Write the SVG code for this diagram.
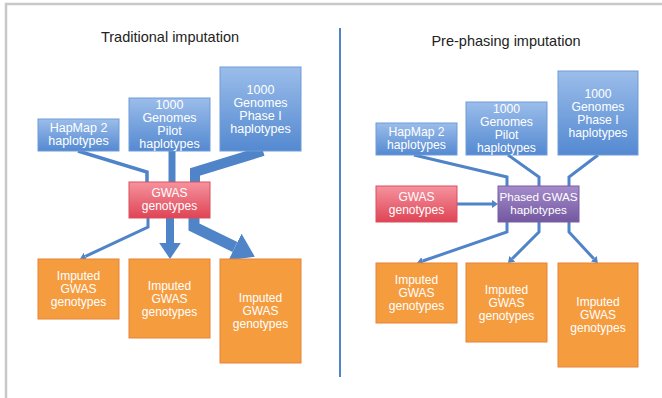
<svg xmlns="http://www.w3.org/2000/svg" width="662" height="398" viewBox="0 0 662 398">
  <style>
    text { font-family: "Liberation Sans", Arial, sans-serif; text-anchor: middle; }
    .title { font-size: 14.5px; fill: #222222; }
    .lbl { fill: #ffffff; }
    .blue { fill: url(#gBlue); stroke: #6f9bd8; stroke-width: 1; }
    .red { fill: url(#gRed); stroke: #d9505f; stroke-width: 1; }
    .purple { fill: url(#gPurple); stroke: #7a5ea3; stroke-width: 1; }
    .orange { fill: #f59c3f; stroke: #e5843a; stroke-width: 1; }
    .conn { fill: none; stroke: #4f84c9; stroke-linejoin: miter; }
    .arrow { marker-end: url(#head); }
    .frame { stroke: #c8c8c8; stroke-width: 2.5; fill: none; }
  </style>
  <defs>
    <linearGradient id="gBlue" x1="0" y1="0" x2="0" y2="1">
      <stop offset="0" stop-color="#9bbdea"/>
      <stop offset="1" stop-color="#5489d1"/>
    </linearGradient>
    <linearGradient id="gRed" x1="0" y1="0" x2="0" y2="1">
      <stop offset="0" stop-color="#f5939e"/>
      <stop offset="1" stop-color="#df4455"/>
    </linearGradient>
    <linearGradient id="gPurple" x1="0" y1="0" x2="0" y2="1">
      <stop offset="0" stop-color="#a48ccb"/>
      <stop offset="1" stop-color="#7357a0"/>
    </linearGradient>
    <marker id="head" viewBox="0 0 20 27" refX="0" refY="13.5" markerWidth="2" markerHeight="2.7" markerUnits="strokeWidth" orient="auto">
      <path d="M0,0 L20,13.5 L0,27 z" fill="#4f84c9"/>
    </marker>
  </defs>

  <rect width="662" height="398" fill="#ffffff"/>
  <!-- page frame -->
  <path class="frame" d="M6,398 V4 H662"/>
  <!-- divider between the two schemes -->
  <line x1="340" y1="28" x2="340" y2="377" stroke="#4f84c9" stroke-width="2"/>

  <text class="title" x="170" y="42">Traditional imputation</text>
  <text class="title" x="506" y="46">Pre-phasing imputation</text>

  <!-- connectors -->
  <g id="connectors">
    <!-- traditional: references into GWAS genotypes -->
    <path class="conn" stroke-width="3.5" d="M78,151 L147,172 V182"/>
    <path class="conn" stroke-width="7" d="M172,151 V182"/>
    <path class="conn" stroke-width="10" d="M263,151 L195,172 V182"/>
    <!-- traditional: GWAS genotypes to imputed outputs -->
    <path class="conn arrow" stroke-width="3" d="M148,218 V227 L85.4,256.4"/>
    <path class="conn arrow" stroke-width="8" d="M170,218 V243"/>
    <path class="conn arrow" stroke-width="11" d="M194,218 V227 L235,247"/>
    <!-- pre-phasing: references into phased haplotypes -->
    <path class="conn" stroke-width="3" d="M414,155 L507,177 V186"/>
    <path class="conn" stroke-width="3" d="M508,155 L539,177 V186"/>
    <path class="conn" stroke-width="3" d="M598,155 L569,177 V186"/>
    <path class="conn arrow" stroke-width="3" d="M457,204 H492"/>
    <!-- pre-phasing: phased haplotypes to imputed outputs -->
    <path class="conn arrow" stroke-width="3" d="M507,222 V232 L422.7,261"/>
    <path class="conn arrow" stroke-width="3" d="M539,222 V232 L512.2,258.8"/>
    <path class="conn arrow" stroke-width="3" d="M569,222 V232 L593.8,258.8"/>
  </g>

  <!-- traditional imputation nodes -->
  <g id="t-hapmap">
    <rect class="blue" x="38" y="119" width="81" height="32"/>
    <text class="lbl" font-size="12.5" x="78.5" y="132">HapMap 2</text>
    <text class="lbl" font-size="12.5" x="78.5" y="145">haplotypes</text>
  </g>
  <g id="t-pilot">
    <rect class="blue" x="129" y="98" width="81" height="53"/>
    <text class="lbl" font-size="12.5" x="169.5" y="109">1000</text>
    <text class="lbl" font-size="12.5" x="169.5" y="122">Genomes</text>
    <text class="lbl" font-size="12.5" x="169.5" y="135">Pilot</text>
    <text class="lbl" font-size="12.5" x="169.5" y="148">haplotypes</text>
  </g>
  <g id="t-phase1">
    <rect class="blue" x="220" y="67" width="81" height="84"/>
    <text class="lbl" font-size="12.5" x="260.5" y="94">1000</text>
    <text class="lbl" font-size="12.5" x="260.5" y="107">Genomes</text>
    <text class="lbl" font-size="12.5" x="260.5" y="120">Phase I</text>
    <text class="lbl" font-size="12.5" x="260.5" y="133">haplotypes</text>
  </g>
  <g id="t-gwas">
    <rect class="red" x="129" y="182" width="81" height="36"/>
    <text class="lbl" font-size="12" x="169.5" y="197">GWAS</text>
    <text class="lbl" font-size="12" x="169.5" y="210">genotypes</text>
  </g>
  <g id="t-imp1">
    <rect class="orange" x="38" y="259" width="81" height="60"/>
    <text class="lbl" font-size="12" x="78.5" y="280">Imputed</text>
    <text class="lbl" font-size="12" x="78.5" y="293">GWAS</text>
    <text class="lbl" font-size="12" x="78.5" y="306">genotypes</text>
  </g>
  <g id="t-imp2">
    <rect class="orange" x="129" y="259" width="81" height="79"/>
    <text class="lbl" font-size="12" x="169.5" y="290">Imputed</text>
    <text class="lbl" font-size="12" x="169.5" y="303">GWAS</text>
    <text class="lbl" font-size="12" x="169.5" y="316">genotypes</text>
  </g>
  <g id="t-imp3">
    <rect class="orange" x="220" y="259" width="81" height="104"/>
    <text class="lbl" font-size="12" x="260.5" y="302">Imputed</text>
    <text class="lbl" font-size="12" x="260.5" y="315">GWAS</text>
    <text class="lbl" font-size="12" x="260.5" y="328">genotypes</text>
  </g>

  <!-- pre-phasing imputation nodes -->
  <g id="p-hapmap">
    <rect class="blue" x="376" y="123" width="81" height="32"/>
    <text class="lbl" font-size="12.2" x="416.5" y="136">HapMap 2</text>
    <text class="lbl" font-size="12.2" x="416.5" y="149">haplotypes</text>
  </g>
  <g id="p-pilot">
    <rect class="blue" x="466" y="102" width="81" height="53"/>
    <text class="lbl" font-size="12.2" x="506.5" y="113">1000</text>
    <text class="lbl" font-size="12.2" x="506.5" y="126">Genomes</text>
    <text class="lbl" font-size="12.2" x="506.5" y="139">Pilot</text>
    <text class="lbl" font-size="12.2" x="506.5" y="152">haplotypes</text>
  </g>
  <g id="p-phase1">
    <rect class="blue" x="558" y="71" width="80" height="84"/>
    <text class="lbl" font-size="12.2" x="598" y="98">1000</text>
    <text class="lbl" font-size="12.2" x="598" y="111">Genomes</text>
    <text class="lbl" font-size="12.2" x="598" y="124">Phase I</text>
    <text class="lbl" font-size="12.2" x="598" y="137">haplotypes</text>
  </g>
  <g id="p-gwas">
    <rect class="red" x="376" y="186" width="81" height="36"/>
    <text class="lbl" font-size="12" x="416.5" y="201">GWAS</text>
    <text class="lbl" font-size="12" x="416.5" y="214">genotypes</text>
  </g>
  <g id="p-phased">
    <rect class="purple" x="498" y="186" width="81" height="36"/>
    <text class="lbl" font-size="11.7" x="538.5" y="201">Phased GWAS</text>
    <text class="lbl" font-size="11.7" x="538.5" y="214">haplotypes</text>
  </g>
  <g id="p-imp1">
    <rect class="orange" x="376" y="263" width="81" height="60"/>
    <text class="lbl" font-size="12" x="416.5" y="284">Imputed</text>
    <text class="lbl" font-size="12" x="416.5" y="297">GWAS</text>
    <text class="lbl" font-size="12" x="416.5" y="310">genotypes</text>
  </g>
  <g id="p-imp2">
    <rect class="orange" x="466" y="263" width="81" height="79"/>
    <text class="lbl" font-size="12" x="506.5" y="294">Imputed</text>
    <text class="lbl" font-size="12" x="506.5" y="307">GWAS</text>
    <text class="lbl" font-size="12" x="506.5" y="320">genotypes</text>
  </g>
  <g id="p-imp3">
    <rect class="orange" x="558" y="263" width="80" height="104"/>
    <text class="lbl" font-size="12" x="598" y="306">Imputed</text>
    <text class="lbl" font-size="12" x="598" y="319">GWAS</text>
    <text class="lbl" font-size="12" x="598" y="332">genotypes</text>
  </g>
</svg>
